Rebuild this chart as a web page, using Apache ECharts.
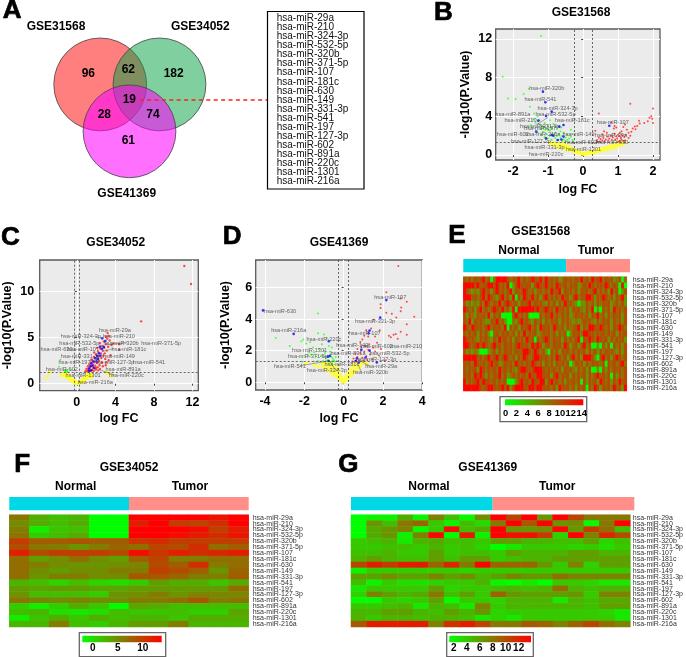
<!DOCTYPE html>
<html><head><meta charset="utf-8">
<script src="https://cdn.jsdelivr.net/npm/echarts@6/dist/echarts.min.js"></script>
<style>html,body{margin:0;padding:0;background:#fff}#c{width:686px;height:657px}</style>
</head><body><div id="c"></div><script>
const mirnas=['hsa-miR-29a','hsa-miR-210','hsa-miR-324-3p','hsa-miR-532-5p','hsa-miR-320b','hsa-miR-371-5p','hsa-miR-107','hsa-miR-181c','hsa-miR-630','hsa-miR-149','hsa-miR-331-3p','hsa-miR-541','hsa-miR-197','hsa-miR-127-3p','hsa-miR-602','hsa-miR-891a','hsa-miR-220c','hsa-miR-1301','hsa-miR-216a'];
const vennCounts={only1:96,s12:62,only2:182,s123:19,s13:28,s23:74,only3:61};
const logFcCut=0.26, pCut=1.3;

const yellowB=[-0.95,1.25,-0.88,1.05,-0.82,1.25,-0.78,0.95,-0.72,1.2,-0.7,0.8,-0.65,1.05,-0.6,0.75,-0.58,1.15,-0.55,0.85,-0.5,0.65,-0.48,1.0,-0.45,0.7,-0.42,0.55,-0.38,0.8,-0.35,0.5,-0.32,0.65,-0.28,0.4,-0.25,0.55,-0.22,0.32,-0.18,0.42,-0.15,0.22,-0.12,0.3,-0.08,0.14,-0.04,0.2,0,0.08,0.03,0.16,0.07,0.1,0.1,0.22,0.14,0.14,0.18,0.28,0.22,0.2,0.26,0.34,0.3,0.26,0.34,0.42,0.38,0.32,0.42,0.5,0.46,0.38,0.5,0.58,0.54,0.45,0.58,0.66,0.62,0.52,0.66,0.75,0.7,0.6,0.74,0.85,0.78,0.68,0.82,0.95,0.86,0.75,0.9,1.05,0.94,0.85,0.98,1.15,1.02,0.95,1.08,1.2,1.12,1.05,1.18,1.25];
const greenB=[-1.2,12.3,-2.3,8.1,-1.55,6.85,-1.7,6.3,-2.15,5.85,-1.93,5.8,-1.52,5.0,-1.4,4.3,-1.3,4.0,-1.42,3.7,-1.5,3.1,-1.45,2.9,-1.35,3.3,-1.25,3.6,-1.2,3.1,-1.15,2.85,-1.1,3.3,-1.05,2.7,-1.0,3.0,-0.95,2.5,-0.9,2.8,-0.85,3.2,-0.8,2.3,-0.75,2.65,-0.7,2.2,-0.65,2.45,-0.6,1.95,-0.55,2.3,-0.5,1.8,-0.45,2.1,-0.4,1.7,-0.35,1.9,-0.3,1.55,-1.3,2.3,-1.2,2.1,-1.15,2.4,-1.1,1.85,-1.05,2.2,-1.0,1.7,-0.95,2.0,-0.9,1.6,-0.85,2.15,-0.8,1.75,-0.75,1.95,-0.7,1.55,-0.65,1.8,-0.6,1.45,-0.55,1.6,-0.5,1.4,-0.45,1.55,-0.28,1.4,-0.35,2.6,-0.3,2.2,-0.95,3.6,-1.0,2.55,-1.08,2.6,-0.78,2.9,-0.62,2.85,-1.2,2.7];
const redB=[1.35,5.3,2.0,4.8,1.95,4.0,1.9,3.85,1.98,3.75,1.85,3.5,2.0,3.3,1.75,3.3,1.6,3.55,1.62,3.25,1.55,3.0,1.48,2.95,1.5,2.65,1.42,2.75,1.38,2.4,0.45,4.3,0.35,2.5,0.55,2.15,0.8,3.35,0.9,3.0,0.88,2.75,0.95,2.85,1.15,2.9,1.2,3.15,1.25,2.6,1.1,2.45,1.05,2.3,1.3,2.3,1.35,2.0,1.3,1.75,1.22,2.1,1.18,1.85,1.12,2.05,1.08,1.75,1.05,1.95,1.0,2.1,0.98,1.7,0.95,1.9,0.92,1.6,0.9,2.2,0.85,1.8,0.82,1.55,0.8,2.0,0.75,1.7,0.72,1.5,0.7,1.9,0.68,2.3,0.65,1.6,0.62,1.45,0.6,2.45,0.58,1.75,0.55,1.5,0.5,1.65,0.48,1.4,0.45,1.8,0.42,1.35,0.4,1.55,1.0,1.4,1.05,1.45,1.1,1.6,1.15,1.45,1.2,1.5];
const blueB=[-1.15,6.55,-1.08,5.45,-0.9,4.48,-1.06,4.03,-1.28,3.55,-0.56,3.1,-0.68,2.93,-1.34,2.41,-0.9,2.07,-0.56,1.9,-1.06,1.73,-0.73,1.55,0.75,3.03,-0.85,2.0,-0.62,1.6];
const labelsB=[['hsa-miR-320b',-1.04,6.9],['hsa-miR-541',-1.22,5.76],['hsa-miR-324-3p',-0.73,4.86],['hsa-miR-891a',-2.01,4.2],['hsa-miR-532-5p',-0.79,4.2],['hsa-miR-210',-1.79,3.52],['hsa-miR-181c',-0.31,3.52],['hsa-miR-107',0.85,3.38],['hsa-miR-371-5p',-1.23,2.9],['hsa-miR-197',-1.23,2.75],['hsa-miR-630',0.83,1.27],['hsa-miR-29a',0.8,2.0],['hsa-miR-149',-0.13,2.14],['hsa-miR-216a',-1.15,2.14],['hsa-miR-602',-2.01,2.14],['hsa-miR-127-3p',-1.49,1.45],['hsa-miR-602',-0.06,1.31],['hsa-miR-331-3p',-1.1,0.8],['hsa-miR-1301',0.01,0.52],['hsa-miR-220c',-1.06,0.1]];
const leadersB=[[-1.3,3.3,-1.0,2.7],[-1.0,3.9,-1.3,3.2],[0.3,1.3,0.5,1.35]];

const yellowC=[-2.8,1.2,-3.1,0.7,-1.6,1.0,-1.5,0.95,-1.35,1.0,-1.25,0.8,-1.15,1.15,-1.1,0.75,-1.0,1.0,-0.95,0.65,-0.85,0.9,-0.8,0.55,-0.7,0.7,-0.65,0.45,-0.55,0.55,-0.5,0.35,-0.4,0.4,-0.35,0.25,-0.28,0.3,-0.2,0.15,-0.12,0.18,-0.05,0.08,0.05,0.06,0.12,0.1,0.2,0.08,0.28,0.15,0.35,0.22,0.42,0.16,0.5,0.32,0.55,0.25,0.62,0.45,0.68,0.32,0.75,0.58,0.8,0.4,0.88,0.72,0.92,0.5,1.0,0.85,1.05,0.62,1.1,1.0,1.18,0.75,1.22,1.15,1.3,0.9,1.35,1.2,1.42,1.05,1.5,1.2,1.55,0.7,3.0,1.2,3.3,1.2,3.6,0.8];
const greenC=[-1.7,2.6,-1.85,1.85,-1.2,1.4,-1.15,1.3,-1.1,1.45,-1.05,1.35,-1.0,1.4,-1.25,1.35,-0.95,1.3,-0.6,1.5];
const redC=[11.15,12.8,11.85,10.84,6.67,6.78,0.9,1.35,1.0,1.6,1.1,1.35,1.15,1.9,1.2,1.5,1.25,1.35,1.3,2.1,1.35,1.7,1.4,1.4,1.45,2.3,1.5,1.9,1.55,1.5,1.6,2.6,1.65,2.1,1.7,1.7,1.75,1.4,1.8,2.9,1.85,2.4,1.9,1.95,1.95,1.55,2.0,3.2,2.05,2.7,2.1,2.25,2.15,1.8,2.2,3.5,2.25,3.0,2.3,2.5,2.35,2.0,2.4,1.6,2.45,3.8,2.5,3.3,2.55,2.8,2.6,2.3,2.65,4.1,2.7,3.6,2.75,3.05,2.8,4.6,2.85,3.9,2.9,3.3,2.95,2.7,3.0,5.1,3.05,4.3,3.1,3.6,3.15,4.9,3.2,5.5,3.25,4.0,3.3,5.2,3.4,4.7,3.5,3.1,3.6,4.2,4.4,3.7,3.8,4.4,3.05,2.3,2.7,1.9,2.2,1.45,3.0,2.0,3.3,2.55,4.4,4.3,1.5,2.6,1.8,3.4,2.1,3.9,2.4,4.4,2.0,1.7];
const blueC=[2.63,4.93,2.96,4.65,2.4,4.03,2.6,3.8,2.3,3.3,2.45,3.05,2.1,3.0,1.9,2.76,2.05,2.45,1.7,2.4,1.5,2.2,1.65,1.95,1.4,1.9,1.25,1.65,1.5,1.45,2.8,4.0,2.2,2.7,1.8,1.7,1.3,1.4];
const labelsC=[['hsa-miR-29a',3.95,5.84],['hsa-miR-324-3p',0.42,5.1],['hsa-miR-210',4.37,5.1],['hsa-miR-532-5p',0.26,4.42],['hsa-miR-320b',4.6,4.42],['hsa-miR-371-5p',8.75,4.42],['hsa-miR-630',-2.1,3.7],['hsa-miR-107',0.65,3.7],['hsa-miR-181c',5.4,3.7],['hsa-miR-331-3p',0.42,3.0],['hsa-miR-149',4.37,3.0],['hsa-miR-197',-0.24,2.29],['hsa-miR-127-3p',3.88,2.29],['hsa-miR-541',7.5,2.29],['hsa-miR-602',-1.55,1.6],['hsa-miR-891a',4.8,1.6],['hsa-miR-1301',0.65,0.87],['hsa-miR-220c',5.13,0.87],['hsa-miR-216a',1.92,0.15]];
const leadersC=[[5.2,4.5,3.2,4.2],[3.8,3.8,2.6,3.5],[3.9,0.95,2.4,1.5],[2.3,2.3,1.7,2.5],[1.9,5.15,2.7,4.9]];

const yellowD=[-1.1,1.2,-1.05,0.95,-0.95,1.25,-0.9,1.0,-0.85,0.8,-0.8,1.15,-0.75,0.95,-0.7,0.7,-0.68,1.2,-0.62,0.9,-0.58,0.55,-0.55,1.1,-0.5,0.75,-0.48,0.45,-0.42,1.0,-0.38,0.65,-0.35,0.35,-0.3,0.85,-0.28,0.5,-0.24,0.25,-0.2,0.6,-0.17,0.32,-0.13,0.18,-0.1,0.35,-0.07,0.12,-0.03,0.06,0,0.02,0.04,0.07,0.08,0.14,0.11,0.28,0.15,0.2,0.18,0.4,0.22,0.28,0.25,0.55,0.28,0.36,0.32,0.7,0.36,0.45,0.4,0.85,0.43,0.55,0.48,1.0,0.5,0.62,0.55,1.15,0.58,0.72,0.63,0.95,0.68,0.82,0.72,1.2,0.78,0.95,0.85,1.1,0.95,1.2,1.05,1.25,-1.3,1.0,-1.5,1.1,-1.9,1.2,1.2,1.15];
const greenD=[-1.3,4.35,-3.45,2.8,-2.74,2.3,-1.3,3.1,-1,3.03,-2.15,2.6,-2.1,1.3,-2.05,2.7,-1.9,2.45,-1.7,2.55,-1.55,2.2,-1.5,1.9,-1.75,1.9,-1.65,1.75,-1.8,1.7,-1.4,1.65,-1.25,2.1,-1.1,2.4,-1.0,2.0,-0.95,1.85,-1.15,1.7,-0.85,2.8,-0.75,2.3,-0.7,1.95,-0.9,1.5,-0.8,1.4,-0.65,1.75,-0.6,2.2,-0.55,1.5,-0.5,1.4,-0.7,1.3,-0.6,1.3,-0.45,1.32,-0.4,1.6,-0.9,1.35,-1.05,1.35,-1.3,1.35,-1.5,1.32,-0.35,1.35,-0.55,1.35,-0.62,1.6];
const redD=[2.78,7.36,2.17,5.7,3.21,5.1,2.9,5.3,1.88,4.94,2.93,4.73,1.88,4.7,2.9,4.5,2.17,4.4,2.45,4.33,3.59,4.15,2.68,4.1,3.21,3.67,1.54,3.95,1.83,3.3,2.9,3.2,3.21,3.0,2.54,3.0,2.3,2.95,2.65,3.05,2.4,2.85,2.75,2.75,1.15,3.3,1.25,2.9,1.4,3.4,1.05,2.95,0.95,2.7,0.85,2.55,1.6,2.9,1.3,2.4,1.1,2.3,0.9,2.2,0.7,2.1,1.7,2.5,1.5,2.2,1.25,2.05,1.05,1.95,0.85,1.85,0.6,1.8,1.6,1.95,1.35,1.75,1.15,1.65,0.95,1.55,0.7,1.6,0.5,1.5,1.8,1.7,1.45,1.45,1.2,1.4,1.0,1.35,0.8,1.4,0.6,1.35,0.45,1.32,1.9,2.1,2.1,1.4];
const blueD=[-4.1,4.55,-2.54,3.06,2.17,5.2,1.86,4.09,1.32,3.27,1.27,3.1,-0.75,2.6,-0.8,1.62,-0.7,1.67,-0.76,1.35,0.9,2.05,1.32,2.0,1.12,1.57,1.69,1.25,0.67,1.5,0.77,1.25,0.62,1.35];
const labelsD=[['hsa-miR-197',2.37,5.4],['hsa-miR-630',-3.23,4.51],['hsa-miR-331-3p',1.6,3.84],['hsa-miR-216a',-2.79,3.25],['hsa-miR-107',1.07,3.06],['hsa-miR-220c',-1.0,2.74],['hsa-miR-149',0.44,2.3],['hsa-miR-602',1.69,2.25],['hsa-miR-210',3.18,2.25],['hsa-miR-1301',-1.73,2.04],['hsa-miR-891a',0.22,1.83],['hsa-miR-532-5p',2.33,1.83],['hsa-miR-371-5p',-1.81,1.62],['hsa-miR-127-3p',1.66,1.43],['hsa-miR-541',-2.74,1.03],['hsa-miR-181c',-0.09,1.14],['hsa-miR-29a',1.91,1.03],['hsa-miR-324-3p',-0.85,0.72],['hsa-miR-320b',1.37,0.61]];
const leadersD=[[-2.2,1.05,-0.75,1.35],[1.3,1.05,0.75,1.4],[0.9,0.65,0.65,1.35],[-0.4,0.75,-0.72,1.35],[-1.1,1.62,-0.72,1.62]];

const heatE=[
"a8a8a9ae8a08eeeea8a9e8a8aea9e8e9a8a68a9a8a9e8a8e9ae8a9a68a08",
"eeeeae9aaeeae9a8e06aea9aa6aea9e9a8ea9a8a9a68a9ea8aa9ea8a90e0",
"ea8686ae9a6ae9a8ae6a9aea8a69a8a8e9ae6a9a8a6a9a8ae8a8a6e8a06a",
"eee9a8ae8ea86ae8a6e0a8ea9e8a6ae9a8a8e9a6ae8a9eea6a9ea8a6a9e6",
"a68686a8ea8a9e8aea9a6a9ae8a9a86a8a6a8e9a86066a8a6a8a9a68a8a6",
"ea8a6ae8a8aea9e8a6e0eeeeeeae9aeaa8e9a8a6a9a86a8e060a8a6e9a8a",
"a6a86a9a8e6a8a0000ae9a8a0000a8a9e8a8a8a68a9a8a6a9e8a6a8a9a6a",
"a8e6a9a866a9e8a60086ae9a86a8a6a8a9a6a8a86868a9a86a8a9a6a8a6a",
"ea8ea9a8ae8a9a8e0a8a6a9ae8a6ea9a8ea8a6a89ae6a8eea9ea8a6a9ea8",
"a8a9a6a8a609a8a9a8a6a8e8a9a68a9a8a6a8a06a9a8eeaa8a9a8a9a6a9a",
"ea9a86a9a86a8e9a8a6a9a8e9a0a8aea8a9a6a8a8ae0a9ea8ea9a6a8a9a6",
"eea9ae9ea8ae9a8a9a8aea9a8eaea69a8a9a8ea69a6ae8a0060a6a0a8a6a",
"a6868600068a6a8a9a8a9aeea9ea8a60a8a6a9a8a8a9a6a8a6a8a9a86a6a",
"eeeee9a8ae9ae8aea8a6a9ea8aeea9a8a8ea8a6ae8a6eeea60ae8a6aea8a",
"a9a8ea9a8ae9a68a9a8e9a8a9ea8a6a8a6a9a8a06a9a6a8a9a8a0a9a8ae8",
"a8a9a6ea8a9a8e9a8a86aeea9aeeea8a9a8a6a9a86a8a6a0060a6a8a9a8a",
"a9a8eae96a8a9e8a68a8a9a8ea9eea9a6ae8a9a6a8a9a6a8ae9a8a0a6a8a",
"e8a9ae9eaa9a8a9a0006ae9a8ea9ee6ae9a8a6a9a8a0a6a9a6ea8a6a8e9a",
"eeeeeea9aeea9ae9e6aeeea9eeaeea9a8a6ea9a8a6a9a0a8ea6a9a8e9a6e"];
const heatF=[
[6.5,3,2,2.5,-2,-2,14,14,14,14,12.5,14],
[5,3,2,3,-2,-2,12,14,10,9.5,11,14],
[6,-1,1.5,2,-2,-2,14,14,14,13,10,12],
[6.5,1,2,3,-2,-2,14,14,13,12,11,12.5],
[10,8,8,8.5,8,8,10.5,11,10,10,10,10],
[9,6.5,6,4.5,6,7.5,7,9.5,9,11,7,8],
[12,9,10,10,10,9,13,10.5,12,11,11.5,12],
[7,4,5,7,5,4,8,9.5,6,6,7,7],
[7,6,5,4.5,4.5,5,5.5,9,8,11,6,7],
[7,5,4,5,5,6,6,10,9,8,4.5,7.5],
[7,4.5,6,6,5,5,8.5,8.5,7.5,6,6,8],
[2.5,2,0.5,2,0.5,0,1,4,3,3,1.5,3],
[4,3.5,4,4,3.5,3.5,4,4,4,4,4,7],
[4.5,2,2,2,1,4.5,5,6,4.5,5.5,5.5,5.5],
[6.5,5.5,5,5.5,5,5,6,6,7,8.5,6,6.5],
[1,-1,1,3,1.5,-2,3.5,3,2,2,2,2],
[2,2.5,0,-0.5,0,2,1.5,1.5,2,1,1,3.5],
[-1,1.5,3,1.5,3,2,2.5,2.5,1.5,3,3,3],
[2.5,2.5,6,2,1,2.5,4,4,6,2.5,2.5,2.5]];
const heatG=[
[1.3,2,2,5.5,2,7.5,4.5,1.8,7,13.9,10.5,13.9,6.5,13.9,10.5,8,8,8],
[1.3,6.5,4.5,8,9,4,2,4.5,3,8,13.9,9.5,13.9,6.5,7,1.5,8,13.9],
[1.3,5.5,6.5,7.5,1.5,4,13,4.5,5.5,13.9,6.5,6.5,7,13.5,6.5,11,8.5,4.5],
[1.3,5.5,6.5,2,7.5,13.5,1.5,12.5,2,13.9,13,13,11,3.5,13.9,7.5,12,10],
[4,4.5,5,2.5,5,5.5,4.5,4.5,4,6,6,5,5,4.5,4.5,6,3.5,4.5],
[4,4,4.5,4.5,4,5,4,4.5,3.5,1.3,2.5,4,4,4,3.5,4,3,4],
[4.5,4.5,5,4,4,6,4,4.5,4.5,4,6,5,5,5,6,6,5,5],
[5,6,5,4.5,4.5,6,4.5,6,6,4,4.5,5,5,6,6,6,6,6],
[10.5,12.5,11,12.5,12.5,9,12,8,13.9,9,9,9,6.5,4,7.5,3.5,6,6],
[2,4,4,4,4,4,4,3.5,4,4,4,4,4,4,4,4,4,4],
[6,6,7,6,6,7.5,6,7,5,6,7.5,6.5,6.5,8.5,7.5,7.5,7.5,7.5],
[4.5,2,4,3,3,3.5,4,4,5,1.8,1.3,2.5,1.3,4,4,3.5,2.5,2.5],
[2.5,4,4,4,4,6,3.5,4,4,4.5,5,4.5,5,8.5,5,4.5,5,5],
[3.5,7.5,6,5,5.5,8,4.5,6,4,9,6.5,6,6,6,6.5,4,7.5,7.5],
[1.5,1.5,4,3.5,4,6,1.5,4,4,3.5,5,5,5,2.5,5,4.5,5.5,5.5],
[4,4,4.5,5,2.5,5,4.5,2.5,7.5,4,5,5,5,5,5,4.5,6,6],
[5,5,6,6,5,4.5,6,5,6.5,3.5,4,4,4,4,4,4,3.5,2.5],
[5,4,5,5,4.5,5,5,4.5,2.5,3.5,2.5,4,4,4,4,4,4,2.5],
[9.5,12.5,12.5,12.5,12.5,7.5,11.5,12.5,10.5,8,8,9.5,9,7.5,9,10.5,8.5,7.5]];
const groupE=[37,23], groupF=[6,6], groupG=[9,9];
const ticksEbar=[0,2,4,6,8,10,12,14], ticksFbar=[0,5,10], ticksGbar=[2,4,6,8,10,12];

const FF='"Liberation Sans",Arial,sans-serif';
const pairs=a=>{const o=[];for(let i=0;i<a.length;i+=2)o.push([a[i],a[i+1]]);return o;};
const grid=[],xAxis=[],yAxis=[],series=[],visualMap=[],graphic=[];

function txt(s,x,y,size,bold,align,fill,stroke){
  const e={type:'text',x,y,silent:true,style:{text:s,font:(bold?'bold ':'')+size+'px '+FF,fill:fill||'#000',textAlign:align||'center',textVerticalAlign:'middle'}};
  if(stroke){e.style.stroke='#000';e.style.lineWidth=stroke;}
  return e;
}
function addVolcano(cfg){
  const g=grid.length;
  grid.push({left:cfg.box[0],top:cfg.box[1],width:cfg.box[2]-cfg.box[0],height:cfg.box[3]-cfg.box[1],show:true,backgroundColor:'#ebebeb',borderColor:'#5a5a5a',borderWidth:1.3,containLabel:false});
  const lab={fontFamily:FF,fontWeight:'bold',fontSize:12.5,color:'#000',showMinLabel:true,showMaxLabel:true};
  const spl={show:true,lineStyle:{color:'#ffffff',width:1}};
  xAxis.push({gridIndex:g,type:'value',min:cfg.xr[0],max:cfg.xr[1],name:'log FC',nameLocation:'middle',nameGap:cfg.xGap,nameTextStyle:{fontFamily:FF,fontWeight:'bold',fontSize:12.5,color:'#000'},
    axisLine:{show:false},axisTick:{show:true,length:2,lineStyle:{color:'#444'},customValues:cfg.xt},axisLabel:Object.assign({margin:cfg.xm,customValues:cfg.xt,hideOverlap:false},lab),splitLine:spl});
  yAxis.push({gridIndex:g,type:'value',min:cfg.yr[0],max:cfg.yr[1],name:'-log10(P.Value)',nameLocation:'middle',nameGap:cfg.yGap,nameTextStyle:{fontFamily:FF,fontWeight:'bold',fontSize:12.5,color:'#000'},
    axisLine:{show:false},axisTick:{show:true,length:2,lineStyle:{color:'#444'},customValues:cfg.yt},axisLabel:Object.assign({margin:cfg.ym,customValues:cfg.yt,hideOverlap:false},lab),splitLine:spl});
  const sc=(d,color,size)=>({type:'scatter',xAxisIndex:g,yAxisIndex:g,data:pairs(d),symbolSize:size,itemStyle:{color},silent:true,animation:false});
  const y=sc(cfg.y,'#ffff2e',4);
  y.markLine={silent:true,symbol:'none',animation:false,label:{show:false},lineStyle:{type:[2,2],color:'#444',width:0.8},
    data:[{xAxis:-logFcCut},{xAxis:logFcCut},{yAxis:pCut}]};
  series.push(y,sc(cfg.g,'#2bff2b',2),sc(cfg.r,'#ff1f1f',cfg.rs||2));
  cfg.lead.forEach(l=>series.push({type:'line',xAxisIndex:g,yAxisIndex:g,data:[[l[0],l[1]],[l[2],l[3]]],symbol:'none',silent:true,animation:false,lineStyle:{color:'#555',width:0.5}}));
  series.push(sc(cfg.b,'#0000ff',2.6));
  series.push({type:'scatter',xAxisIndex:g,yAxisIndex:g,symbolSize:0,silent:true,animation:false,
    data:cfg.l.map(d=>({value:[d[1],d[2]],name:d[0]})),
    label:{show:true,position:'inside',formatter:'{b}',fontFamily:FF,fontSize:5.6,color:'#3c3c3c'},labelLayout:{hideOverlap:false}});
}
addVolcano({box:[495.7,29,660,160],xr:[-2.5,2.2],yr:[-0.52,13.03],xt:[-2,-1,0,1,2],yt:[0,4,8,12],xGap:23,yGap:23.5,xm:5,ym:3.5,y:yellowB,g:greenB,r:redB,b:blueB,l:labelsB,lead:leadersB});
addVolcano({box:[31.7,260,198.3,390.7],xr:[-3.85,12.6],yr:[-0.76,13.45],xt:[0,4,8,12],yt:[0,5,10],xGap:21,yGap:25.7,xm:5,ym:5.5,y:yellowC,g:greenC,r:redC,b:blueC,l:labelsC,lead:leadersC,rs:2.4});
addVolcano({box:[255.7,260,422.3,390],xr:[-4.47,4.0],yr:[-0.49,7.74],xt:[-4,-2,0,2,4],yt:[0,2,4,6],xGap:22,yGap:24,xm:5,ym:3.5,y:yellowD,g:greenD,r:redD,b:blueD,l:labelsD,lead:leadersD});

function addHeat(cfg){
  const g=grid.length;
  grid.push({left:cfg.x0,top:514.7-(cfg.dy||0),width:cfg.x1-cfg.x0,height:cfg.h||112.3,show:false});
  const nc=cfg.rows[0].length;
  xAxis.push({gridIndex:g,type:'category',data:Array.from({length:nc},(_,i)=>i),show:false});
  yAxis.push({gridIndex:g,type:'category',inverse:true,position:'right',data:mirnas,axisLine:{show:false},axisTick:{show:false},splitLine:{show:false},
    axisLabel:{interval:0,fontFamily:FF,fontSize:7,color:'#333',margin:cfg.lm}});
  const d=[];cfg.rows.forEach((r,i)=>{for(let j=0;j<nc;j++)d.push([j,i,r[j]]);});
  const si=series.length;
  series.push({type:'heatmap',xAxisIndex:g,yAxisIndex:g,data:d,silent:true,animation:false,progressive:0,itemStyle:{borderWidth:0}});
  visualMap.push({show:false,type:'continuous',seriesIndex:si,dimension:2,min:cfg.vr[0],max:cfg.vr[1],inRange:{color:['#00ff00','#ff0000']}});
  const b=grid.length;
  grid.push({left:cfg.x0,top:cfg.barTop,width:cfg.x1-cfg.x0,height:13.3,show:false});
  xAxis.push({gridIndex:b,type:'value',min:0,max:cfg.group[0]+cfg.group[1],show:false});
  yAxis.push({gridIndex:b,type:'category',data:['group'],show:false});
  [['Normal','#00d8e6'],['Tumor','#ff8f88']].forEach((s,i)=>series.push({type:'bar',name:s[0],stack:'g'+b,xAxisIndex:b,yAxisIndex:b,data:[cfg.group[i]],barWidth:'100%',itemStyle:{color:s[1]},silent:true,animation:false}));
  const c=grid.length;
  grid.push({left:cfg.bar[0],top:cfg.bar[1],width:cfg.bar[2]-cfg.bar[0],height:cfg.bar[3]-cfg.bar[1],show:true,borderWidth:0,
    backgroundColor:new echarts.graphic.LinearGradient(0,0,1,0,[{offset:0,color:'#00ff00'},{offset:1,color:'#ff0000'}])});
  xAxis.push({gridIndex:c,type:'value',min:cfg.vr[0],max:cfg.vr[1],axisLine:{show:false},axisTick:{show:false},splitLine:{show:false},
    axisLabel:{customValues:cfg.ticks,hideOverlap:false,showMinLabel:true,showMaxLabel:true,margin:cfg.bm,fontFamily:FF,fontWeight:'bold',fontSize:cfg.bf||10,color:'#000'}});
  yAxis.push({gridIndex:c,type:'value',show:false,min:0,max:1,splitLine:{show:false}});
}
const heatEvals=heatE.map(s=>s.split('').map(ch=>parseInt(ch,16)));
addHeat({x0:463.3,x1:630,rows:heatEvals,vr:[-0.1,14.3],lm:6,group:groupE,barTop:259,bar:[505,399.3,583.3,405.3],ticks:ticksEbar,bm:3.5,bf:9.4,dy:238,h:114.3});
addHeat({x0:9.3,x1:248.7,rows:heatF,vr:[-2.1,13.8],lm:4,group:groupF,barTop:497,bar:[82.3,635.7,161.7,642.3],ticks:ticksFbar,bm:0.5});
addHeat({x0:351,x1:634.3,rows:heatG,vr:[1.32,13.9],lm:2.5,group:groupG,barTop:497,bar:[449.3,635.7,531,642.3],ticks:ticksGbar,bm:0.5});

[[100.2,84.4,'rgba(255,0,0,0.5)'],[159.5,84.4,'rgba(0,160,64,0.5)'],[129.5,131.3,'rgba(255,0,255,0.56)']].forEach(c=>
  graphic.push({type:'circle',silent:true,shape:{cx:c[0],cy:c[1],r:46.4},style:{fill:c[2],stroke:'#444',lineWidth:0.8}}));
const V=vennCounts;
[[V.only1,88.3,74],[V.s12,128.3,69.3],[V.only2,173.7,74],[V.s123,129.3,100],[V.s13,104.3,114.3],[V.s23,153,114.3],[V.only3,128.3,140.7]].forEach(n=>graphic.push(txt(String(n[0]),n[1],n[2],12,true)));
graphic.push(txt('GSE31568',56,27,12,true),txt('GSE34052',200.3,27,12,true),txt('GSE41369',126.7,193.3,12,true));
graphic.push({type:'line',silent:true,shape:{x1:139.7,y1:100,x2:267.3,y2:100},style:{stroke:'#ff2020',lineWidth:1.7,lineDash:[4,3.4]}});
graphic.push({type:'rect',silent:true,shape:{x:267.5,y:11.5,width:96.5,height:177.5},style:{fill:'#fff',stroke:'#000',lineWidth:1.2}});
mirnas.forEach((m,i)=>graphic.push(txt(m,276.7,18.3+i*9.07,10,false,'left','#111')));
[['A',2.7,11],['B',434,12.5],['C',1,238],['D',222.7,236.5],['E',448.3,236],['F',14.3,465],['G',338.3,465]].forEach(l=>graphic.push(txt(l[0],l[1],l[2],26,true,'left','#000',0.7)));
[['GSE31568',581,12.7],['GSE34052',115.7,242.3],['GSE41369',339,242.3],['GSE31568',540.7,231.7],['GSE34052',129,467.3],['GSE41369',487.7,467.3],
 ['Normal',519,251],['Tumor',596,251],['Normal',75.7,486.7],['Tumor',190,486.7],['Normal',429,486.7],['Tumor',557.3,486.7]].forEach(t=>graphic.push(txt(t[0],t[1],t[2],12,true)));
[[500,396.7,86.7,25],[79.3,632.7,86.4,24],[446.7,632.7,86.6,24]].forEach(b=>graphic.unshift({type:'rect',silent:true,z:-1,shape:{x:b[0],y:b[1],width:b[2],height:b[3]},style:{fill:'none',stroke:'#666',lineWidth:1.3}}));

const chart=echarts.init(document.getElementById('c'),null,{renderer:'canvas'});
chart.setOption({animation:false,backgroundColor:'#fff',grid,xAxis,yAxis,series,visualMap,graphic});
</script></body></html>
